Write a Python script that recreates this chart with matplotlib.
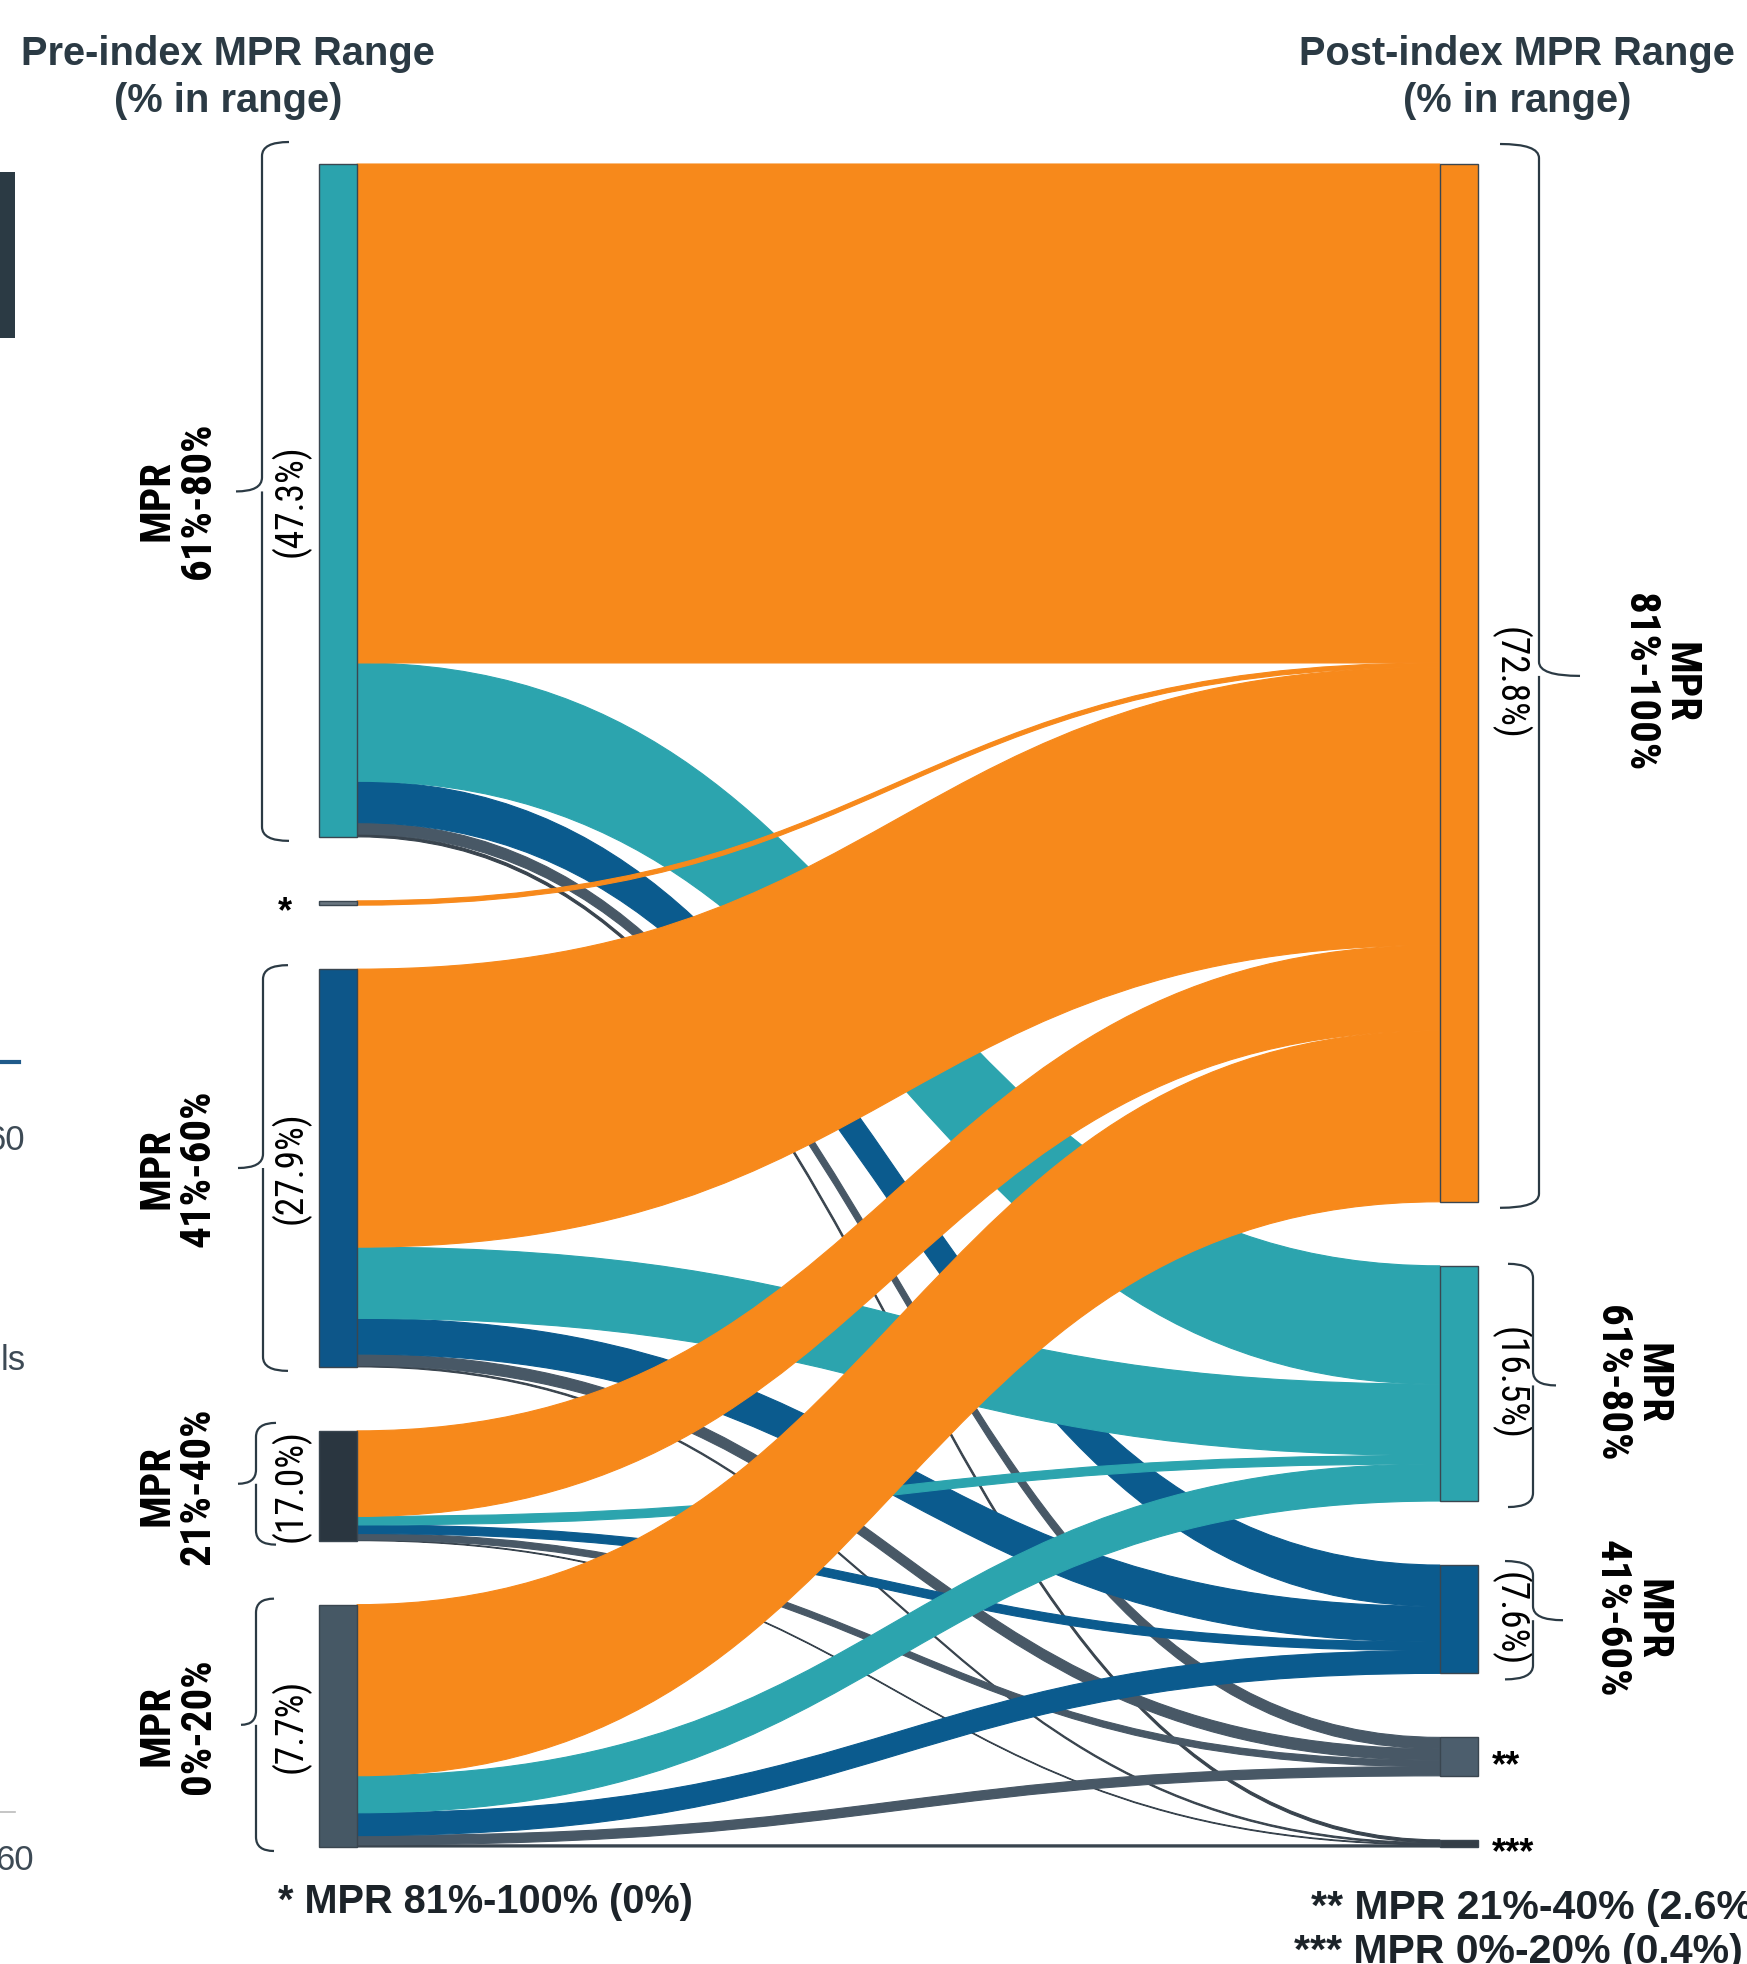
import numpy as np
import matplotlib
matplotlib.use('Agg')
import matplotlib.pyplot as plt
from matplotlib.path import Path
from matplotlib.patches import PathPatch, Rectangle
from matplotlib import font_manager as fm

# ---------------- data ----------------
pre_labels = ['MPR\n61%-80%', '*', 'MPR\n41%-60%', 'MPR\n21%-40%', 'MPR\n0%-20%']
pre_pct = ['(47.3%)', '', '(27.9%)', '(17.0%)', '(7.7%)']
post_labels = ['MPR\n81%-100%', 'MPR\n61%-80%', 'MPR\n41%-60%', '**', '***']
post_pct = ['(72.8%)', '(16.5%)', '(7.6%)', '', '']

# % of patients moving from each pre-index range (order of pre_labels)
to_81_100 = [35.0, 0.3, 19.5, 6.0, 12.0]
to_61_80 = [8.3, 0.0, 5.0, 0.6, 2.6]
to_41_60 = [2.9, 0.0, 2.5, 0.6, 1.6]
to_21_40 = [0.8, 0.0, 0.8, 0.45, 0.65]
to_0_20 = [0.2, 0.0, 0.1, 0.05, 0.15]

title_left = ['Pre-index MPR Range', '(% in range)']
title_right = ['Post-index MPR Range', '(% in range)']
note_left = '* MPR 81%-100% (0%)'
note_right = ['** MPR 21%-40% (2.6%)', '*** MPR 0%-20% (0.4%)']

# ---------------- style ----------------
flow_colors = ['#F7891B', '#2CA4AE', '#0B5B8E', '#485866', '#39444E']
pre_node_colors = ['#2BA3AD', '#6A7680', '#0D5689', '#2A3640', '#465865']
post_node_colors = ['#F7891B', '#2CA4AE', '#0B5B8E', '#4C5E6D', '#343E47']
txt = '#2B3A44'

names = set(f.name for f in fm.fontManager.ttflist)
narrow = None
for cand in ['Liberation Sans Narrow', 'Arial Narrow', 'Roboto Condensed', 'Archivo Narrow']:
    if cand in names:
        narrow = cand
        break
fam_main = ['Liberation Sans', 'DejaVu Sans']
fam_narrow = ([narrow] if narrow else []) + fam_main

W, H = 1747, 1964
fig = plt.figure(figsize=(W / 100, H / 100), dpi=100)
ax = fig.add_axes([0, 0, 1, 1])
ax.set_xlim(0, W)
ax.set_ylim(H, 0)
ax.axis('off')

flows = np.array([to_81_100, to_61_80, to_41_60, to_21_40, to_0_20]).T  # [pre, post]
pre_tot = flows.sum(axis=1)
post_tot = flows.sum(axis=0)

top, bottom, gap = 164, 1847, 64
scale = (bottom - top - 4 * gap) / pre_tot.sum()
xl, xr, nw = 319, 1440, 38


def stack(tots):
    ys, y = [], top
    for t in tots:
        ys.append(y)
        y += t * scale + gap
    return ys

pre_y = stack(pre_tot)
post_y = stack(post_tot)

src_off = np.zeros_like(flows)
tgt_off = np.zeros_like(flows)
for i in range(5):
    acc = 0
    for j in range(5):
        src_off[i, j] = acc
        acc += flows[i, j]
for j in range(5):
    acc = 0
    for i in range(5):
        tgt_off[i, j] = acc
        acc += flows[i, j]

x0, x1 = xl + nw, xr
xm = (x0 + x1) / 2
for j in [4, 3, 2, 1, 0]:
    for i in range(5):
        v = flows[i, j]
        if v <= 0:
            continue
        s0 = pre_y[i] + src_off[i, j] * scale
        s1 = s0 + v * scale
        t0 = post_y[j] + tgt_off[i, j] * scale
        t1 = t0 + v * scale
        verts = [(x0, s0), (xm, s0), (xm, t0), (x1, t0),
                 (x1, t1), (xm, t1), (xm, s1), (x0, s1), (x0, s0)]
        codes = [Path.MOVETO, Path.CURVE4, Path.CURVE4, Path.CURVE4,
                 Path.LINETO, Path.CURVE4, Path.CURVE4, Path.CURVE4, Path.CLOSEPOLY]
        ax.add_patch(PathPatch(Path(verts, codes), facecolor=flow_colors[j],
                               edgecolor=flow_colors[j], lw=0.8, zorder=2))

for i in range(5):
    ax.add_patch(Rectangle((xl, pre_y[i]), nw, pre_tot[i] * scale, facecolor=pre_node_colors[i],
                           edgecolor='#3a4650', lw=1.0, zorder=3))
for j in range(5):
    ax.add_patch(Rectangle((xr, post_y[j]), nw, post_tot[j] * scale, facecolor=post_node_colors[j],
                           edgecolor='#3a4650', lw=1.0, zorder=3))


def brace(xv, xe, xt, y0, y1, r=14):
    ym = (y0 + y1) / 2
    verts = [(xe, y0), (xv, y0), (xv, y0 + r), (xv, ym - r), (xv, ym), (xt, ym),
             (xv, ym), (xv, ym + r), (xv, y1 - r), (xv, y1), (xe, y1)]
    codes = [Path.MOVETO, Path.CURVE3, Path.CURVE3, Path.LINETO, Path.CURVE3, Path.CURVE3,
             Path.MOVETO, Path.CURVE3, Path.LINETO, Path.CURVE3, Path.CURVE3]
    ax.add_patch(PathPatch(Path(verts, codes), facecolor='none', edgecolor=txt, lw=1.6, zorder=4))

# left braces / labels
lb = {0: (262, 289, 236, 22), 2: (263, 288, 238, 4), 3: (256, 276, 238, 8), 4: (256, 274, 241, 6)}
for i in [0, 2, 3, 4]:
    y0 = pre_y[i]
    y1 = y0 + pre_tot[i] * scale
    xv, xe, xt, pad = lb[i]
    brace(xv, xe, xt, y0 - pad, y1 + 4)
    yc = (y0 + y1) / 2
    ax.text(178, yc, pre_labels[i], rotation=90, ha='center', va='center', fontsize=31,
            fontweight='bold', family=fam_narrow, color='black', linespacing=1.0)
    ax.text(291, yc, pre_pct[i], rotation=90, ha='center', va='center', fontsize=27,
            family=fam_narrow, color='black')
ys = pre_y[1] + pre_tot[1] * scale / 2
ax.text(285, ys + 10, pre_labels[1], ha='center', va='center', fontsize=26, fontweight='bold',
        family=fam_main, color='black')

# right braces / labels
rb = {0: (1539, 1500, 1580, 20), 1: (1533, 1508, 1556, 2), 2: (1533, 1505, 1563, 4)}
rx = {0: 1660, 1: 1632, 2: 1632}
for j in [0, 1, 2]:
    y0 = post_y[j]
    y1 = y0 + post_tot[j] * scale
    xv, xe, xt, pad = rb[j]
    brace(xv, xe, xt, y0 - pad, y1 + 6)
    yc = (y0 + y1) / 2
    ax.text(rx[j], yc, post_labels[j], rotation=270, ha='center', va='center', fontsize=31,
            fontweight='bold', family=fam_narrow, color='black', linespacing=1.0)
    ax.text(1510, yc, post_pct[j], rotation=270, ha='center', va='center', fontsize=27,
            family=fam_narrow, color='black')
for j in [3, 4]:
    yc = post_y[j] + post_tot[j] * scale / 2
    ax.text(1492, yc + 10, post_labels[j], ha='left', va='center', fontsize=26, fontweight='bold',
            family=fam_main, color='black')

# titles and notes
for k, yy in enumerate([54, 101]):
    ax.text(228, yy, title_left[k], ha='center', va='center', fontsize=28.7, fontweight='bold',
            family=fam_main, color=txt)
    ax.text(1517, yy, title_right[k], ha='center', va='center', fontsize=28.7, fontweight='bold',
            family=fam_main, color=txt)
ax.text(278, 1902, note_left, ha='left', va='center', fontsize=28.6, fontweight='bold',
        family=fam_main, color='#1c2329')
ax.text(1311, 1908, note_right[0], ha='left', va='center', fontsize=29.5, fontweight='bold',
        family=fam_main, color='#1c2329')
ax.text(1294, 1952, note_right[1], ha='left', va='center', fontsize=29.5, fontweight='bold',
        family=fam_main, color='#1c2329')

# cropped remnants of the neighbouring slide at the left edge
ax.add_patch(Rectangle((0, 172), 15, 166, facecolor='#2B3A44', edgecolor='none'))
ax.plot([0, 19], [1062, 1062], color='#1F5A8A', lw=3)
ax.plot([0, 15], [1812, 1812], color='#BBBBBB', lw=1.2)
ax.text(-14, 1140, '60', ha='left', va='center', fontsize=25, family=fam_main, color='#3D4A55')
ax.text(1, 1361, 'ls', ha='left', va='center', fontsize=25, family=fam_main, color='#3D4A55')
ax.text(-5, 1860, '60', ha='left', va='center', fontsize=25, family=fam_main, color='#3D4A55')

fig.savefig('out.png', dpi=100)
